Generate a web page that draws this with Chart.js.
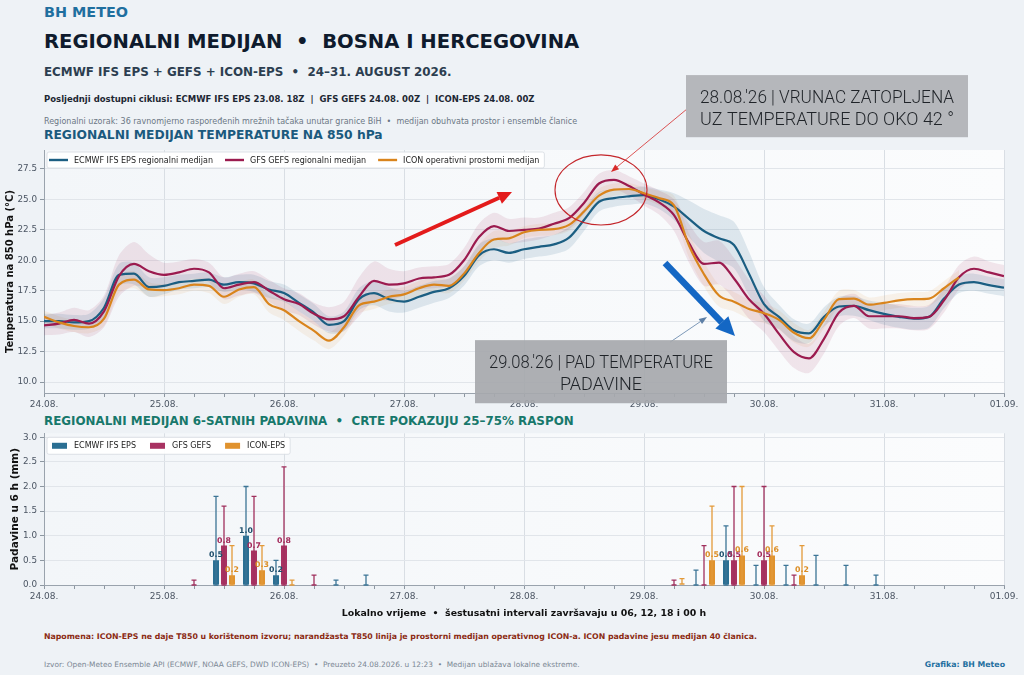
<!DOCTYPE html>
<html lang="bs">
<head>
<meta charset="utf-8">
<title>Regionalni medijan - BiH</title>
<script src="https://cdn.jsdelivr.net/npm/chart.js@4.4.1/dist/chart.umd.min.js"></script>
<style>
  body { margin:0; width:1024px; height:675px; background:#eef2f6; position:relative; overflow:hidden;
         font-family:"DejaVu Sans",sans-serif; }
  .t { position:absolute; left:44px; margin:0; white-space:nowrap; line-height:1; }
  #brend { top:5px; font-size:14.4px; font-weight:bold; color:#1f6f9f; }
  #naslov { top:32px; font-size:19.6px; font-weight:bold; color:#0f1b2d; }
  #podnaslov { top:67px; font-size:11.9px; font-weight:bold; color:#2c3e50; }
  #ciklusi { top:95px; font-size:8.5px; font-weight:bold; color:#1d2733; }
  #uzorak { top:118px; font-size:8px; color:#6b7785; }
  #sekcija1 { top:129px; font-size:12.3px; font-weight:bold; color:#1b5a7e; }
  #sekcija2 { top:416px; font-size:11.9px; font-weight:bold; color:#17786b; }
  #napomena { top:633px; font-size:7.8px; font-weight:bold; color:#8b2a12; }
  #izvor { top:661px; font-size:7.4px; color:#7b8794; }
  #grafika { top:661px; left:auto; right:19px; font-size:7.8px; font-weight:bold; color:#1f6f9f; }
  #gornjiBox { position:absolute; left:0; top:60px; width:1024px; height:355px; }
  #donjiBox { position:absolute; left:0; top:425px; width:1024px; height:200px; }
</style>
</head>
<body>
<div class="t" id="brend">BH METEO</div>
<div class="t" id="naslov">REGIONALNI MEDIJAN &nbsp;•&nbsp; BOSNA I HERCEGOVINA</div>
<div class="t" id="podnaslov">ECMWF IFS EPS + GEFS + ICON-EPS &nbsp;•&nbsp; 24–31. AUGUST 2026.</div>
<div class="t" id="ciklusi">Posljednji dostupni ciklusi: ECMWF IFS EPS 23.08. 18Z &nbsp;| &nbsp;GFS GEFS 24.08. 00Z &nbsp;| &nbsp;ICON-EPS 24.08. 00Z</div>
<div class="t" id="uzorak">Regionalni uzorak: 36 ravnomjerno raspoređenih mrežnih tačaka unutar granice BiH &nbsp;• &nbsp;medijan obuhvata prostor i ensemble članice</div>
<div class="t" id="sekcija1">REGIONALNI MEDIJAN TEMPERATURE NA 850 hPa</div>
<div class="t" id="sekcija2">REGIONALNI MEDIJAN 6-SATNIH PADAVINA &nbsp;•&nbsp; CRTE POKAZUJU 25–75% RASPON</div>
<div class="t" id="napomena">Napomena: ICON-EPS ne daje T850 u korištenom izvoru; narandžasta T850 linija je prostorni medijan operativnog ICON-a. ICON padavine jesu medijan 40 članica.</div>
<div class="t" id="izvor">Izvor: Open-Meteo Ensemble API (ECMWF, NOAA GEFS, DWD ICON-EPS) &nbsp;• &nbsp;Preuzeto 24.08.2026. u 12:23 &nbsp;• &nbsp;Medijan ublažava lokalne ekstreme.</div>
<div class="t" id="grafika">Grafika: BH Meteo</div>

<div id="gornjiBox"><canvas id="gornji" width="1024" height="355"></canvas></div>
<div id="donjiBox"><canvas id="donji" width="1024" height="200"></canvas></div>

<script>
// sati od 24.08. 00h, korak 3 h
const sati = [0,3,6,9,12,15,18,21,24,27,30,33,36,39,42,45,48,51,54,57,60,63,66,69,72,75,78,81,84,87,90,93,96,
  99,102,105,108,111,114,117,120,123,126,129,132,135,138,141,144,147,150,153,156,159,162,165,168,171,174,177,180,183,186,189,192]
const dani = ['24.08.','25.08.','26.08.','27.08.','28.08.','29.08.','30.08.','31.08.','01.09.']
const tempTicks = [10, 12.5, 15, 17.5, 20, 22.5, 25, 27.5]
const padTicks = [0, 0.5, 1, 1.5, 2, 2.5, 3]

// T850 regionalni medijan (°C)
const ecmwfT = [15.0,15.0,14.9,15.0,16.1,18.8,18.9,17.8,17.9,18.2, 18.3,18.4,18.0,18.2,18.1,17.6,17.3,16.5,15.7,14.7,
  15.0,16.8,17.3,16.8,16.6,17.0,17.4,17.7,18.7,20.4, 20.9,20.6,20.9,21.1,21.3,21.85,23.3,24.8,25.1,25.25,
  25.35,25.0,24.4,23.4,22.4,21.8,21.25,18.9,16.4,15.35, 14.25,14.0,15.35,16.2,16.25,15.9,15.6,15.35,15.2,15.35,
  16.85,18.0,18.2,17.95,17.75]
const gfsT = [14.65,14.8,15.1,14.8,15.8,18.7,19.7,19.1,18.8,19.0, 19.3,19.0,17.7,18.0,18.2,17.5,16.8,16.4,15.6,15.15,
  15.4,17.0,18.3,18.0,18.1,18.5,18.6,18.8,20.0,21.9, 22.8,22.4,22.5,22.6,23.0,23.45,24.7,26.3,26.6,26.1,
  25.4,24.75,23.7,21.4,19.7,19.8,18.5,16.8,15.6,13.95, 12.45,11.95,13.55,15.7,16.25,15.4,15.4,15.4,15.25,15.35,
  16.7,18.6,19.3,19.0,18.7]
const iconT = [15.35,14.9,14.6,14.5,15.2,18.0,18.4,17.6,17.55,17.7, 18.0,17.9,17.0,17.6,17.8,16.4,15.9,15.0,14.2,13.4,
  14.5,16.3,16.6,17.0,17.2,17.7,18.0,17.9,18.9,20.6, 21.7,21.8,22.3,22.5,22.55,22.9,24.0,25.3,25.8,25.85,
  25.5,25.1,24.5,21.2,18.85,17.1,16.6,16.0,15.65,15.1, 14.05,13.6,15.1,16.8,16.85,16.35,16.5,16.7,16.8,16.85,
  17.7,18.6,null,null,null]

// polovina 25–75% raspona (°C)
const ecmwfRaspon = [0.6,0.6,0.6,0.6,0.8,0.9,0.9,0.8,0.7,0.6, 0.6,0.6,0.6,0.6,0.7,0.7,0.7,0.7,0.7,0.7,
  0.8,0.9,1.0,1.0,0.9,0.9,0.9,0.8,0.8,0.9, 0.9,0.8,0.8,0.8,0.8,0.9,0.9,0.8,0.7,0.7,
  0.7,0.8,1.1,1.5,1.8,1.9,1.9,1.8,1.4,1.0, 0.9,0.8,0.8,0.8,0.8,0.8,0.9,0.9,0.9,0.9, 0.8,0.7,0.7,0.7,0.7]
const gfsRaspon = [0.8,0.9,1.0,1.1,1.3,1.7,1.8,1.4,1.0,0.9, 0.8,0.8,0.9,0.9,0.9,0.9,0.9,0.9,0.9,1.0,
  1.2,1.6,1.6,1.3,1.0,0.9,0.9,0.9,1.0,1.1, 1.1,1.0,1.0,0.9,0.9,0.9,0.9,0.8,0.8,0.8,
  0.9,1.0,1.3,1.6,1.8,1.8,1.7,1.6,1.5,1.4, 1.3,1.2,1.2,1.1,1.0,1.0,1.0,1.0,1.0,1.0, 1.0,1.0,1.0,0.9,0.9]
const iconRaspon = [0.5,0.5,0.5,0.5,0.6,0.7,0.7,0.6,0.5,0.5, 0.5,0.6,0.6,0.6,0.6,0.7,0.8,0.8,0.8,0.7,
  0.7,0.7,0.6,0.6,0.6,0.6,0.6,0.6,0.6,0.7, 0.7,0.6,0.5,0.5,0.5,0.5,0.6,0.6,0.5,0.5,
  0.5,0.6,0.8,1.0,1.0,0.9,0.8,0.8,0.8,0.8, 0.8,0.7,0.7,0.7,0.7,0.6,0.6,0.6,0.6,0.6, 0.6,0.6,null,null,null]

// 6-satne padavine: kraj intervala u satima od 24.08. 00h
const padSati = [6,12,18,24,30,36,42,48,54,60,66,72,78,84,90,96,102,108,114,120,126,132,138,144,150,156,162,168,174,180,186,192]
const ecmwfPad   = [0,0,0,0,0,0.5,1.0,0.2,0,0, 0,0,0,0,0,0,0,0,0,0, 0,0,0.5,0,0,0,0,0,0,0, 0,0]
const ecmwfPad25 = [0,0,0,0,0,0,0,0,0,0, 0,0,0,0,0,0,0,0,0,0, 0,0,0,0,0,0,0,0,0,0, 0,0]
const ecmwfPad75 = [0,0,0,0,0,1.8,2.0,0.5,0,0.1, 0.2,0,0,0,0,0,0,0,0,0, 0,0.3,1.2,0.4,0.4,0.6,0.4,0.2,0,0, 0,0]
const gfsPad     = [0,0,0,0,0,0.8,0.7,0.8,0,0, 0,0,0,0,0,0,0,0,0,0, 0,0,0.5,0.5,0,0,0,0,0,0, 0,0]
const gfsPad25   = [0,0,0,0,0,0,0,0,0,0, 0,0,0,0,0,0,0,0,0,0, 0,0,0,0,0,0,0,0,0,0, 0,0]
const gfsPad75   = [0,0,0,0,0.1,1.6,1.8,2.4,0.2,0, 0,0,0,0,0,0,0,0,0,0, 0.1,0.8,2.0,2.0,0.2,0,0,0,0,0, 0,0]
const iconPad    = [0,0,0,0,0,0.2,0.3,0,0,0, 0,0,0,0,0,0,0,0,0,0, 0,0.5,0.6,0.6,0.2,0,0,0,0,0, 0,0]
const iconPad25  = [0,0,0,0,0,0,0,0,0,0, 0,0,0,0,0,0,0,0,0,0, 0.02,0,0,0,0,0,0,0,0,0, 0,0]
const iconPad75  = [0,0,0,0,0,0.8,0.8,0.1,0,0, 0,0,0,0,0,0,0,0,0,0, 0.13,1.6,2.0,1.2,0.8,0,0,0,0,0, 0,0]

const FONT = '"DejaVu Sans", sans-serif'
Chart.defaults.font.family = FONT
Chart.defaults.color = '#4b5563'

const osSati = [0].concat(padSati)

//POZADINA PODRUČJA GRAFIKA
const pozadina = {
    id: 'pozadina',
    beforeDraw(chart) {
        const { ctx, chartArea: a } = chart
        const g = ctx.createLinearGradient(a.left, 0, a.right, 0)
        g.addColorStop(0, '#f3f6f9')
        g.addColorStop(1, '#fbfcfd')
        ctx.save()
        ctx.fillStyle = g
        ctx.fillRect(a.left, a.top, a.right - a.left, a.bottom - a.top)
        ctx.restore()
    }
}

//LEGENDA UNUTAR GRAFIKA
function legenda(stavke, tip) {
    const linijska = tip === 'linija'
    const znak = linijska ? 19 : 15
    const doTeksta = linijska ? 6 : 7
    const razmak = linijska ? 12 : 14
    return {
        id: 'legenda',
        afterDraw(chart) {
            const { ctx, chartArea: a } = chart
            ctx.save()
            ctx.font = '8px ' + FONT
            const visina = linijska ? 16 : 17
            const top = a.top + (linijska ? 2 : 4)
            let x = a.left + (linijska ? 5 : 8)
            const polozaji = stavke.map(s => {
                const p = x
                x += znak + doTeksta + ctx.measureText(s.tekst).width + razmak
                return p
            })
            ctx.fillStyle = 'rgba(255,255,255,0.92)'
            ctx.strokeStyle = '#d6dbe1'
            ctx.lineWidth = 0.8
            ctx.beginPath()
            ctx.roundRect(a.left + 3, top, x - razmak + 5 - (a.left + 3), visina, 2)
            ctx.fill()
            ctx.stroke()
            const sredina = top + visina / 2
            stavke.forEach((s, i) => {
                const p = polozaji[i]
                if (linijska) {
                    ctx.strokeStyle = s.boja
                    ctx.lineWidth = 2.4
                    ctx.beginPath(); ctx.moveTo(p, sredina); ctx.lineTo(p + znak, sredina); ctx.stroke()
                } else {
                    ctx.fillStyle = s.boja
                    ctx.fillRect(p, sredina - 3, znak, 6)
                }
                ctx.fillStyle = '#222'
                ctx.textBaseline = 'middle'
                ctx.fillText(s.tekst, p + znak + doTeksta, sredina + 0.5)
            })
            ctx.restore()
        }
    }
}

function strelica(ctx, x1, y1, x2, y2, debljina, boja, duzina, sirina) {
    const ug = Math.atan2(y2 - y1, x2 - x1)
    const bx = x2 - duzina * Math.cos(ug), by = y2 - duzina * Math.sin(ug)
    ctx.strokeStyle = boja
    ctx.fillStyle = boja
    ctx.lineWidth = debljina
    ctx.beginPath(); ctx.moveTo(x1, y1); ctx.lineTo(bx, by); ctx.stroke()
    ctx.beginPath()
    ctx.moveTo(x2, y2)
    ctx.lineTo(bx + sirina / 2 * Math.sin(ug), by - sirina / 2 * Math.cos(ug))
    ctx.lineTo(bx - sirina / 2 * Math.sin(ug), by + sirina / 2 * Math.cos(ug))
    ctx.closePath(); ctx.fill()
}

//NAPOMENE NA GRAFIKU TEMPERATURE (u koordinatama podataka)
const napomene = {
    id: 'napomene',
    afterDraw(chart) {
        const { ctx, scales: { x, y } } = chart
        const px = h => x.getPixelForValue(h)
        const py = t => y.getPixelForValue(t)
        ctx.save()

        // krug oko vrhunca
        ctx.strokeStyle = '#c4262b'
        ctx.lineWidth = 1.1
        ctx.beginPath()
        ctx.ellipse(px(111.4), py(25.77), px(9.2) - px(0), py(0) - py(2.88), 0, 0, Math.PI * 2)
        ctx.stroke()

        // debele strelice
        strelica(ctx, px(70.2), py(21.25), px(93.6), py(25.6), 4, '#e31b1b', 14, 13)
        strelica(ctx, px(124.2), py(19.77), px(138.2), py(13.77), 6.5, '#1467c4', 19, 18)

        // tanke linije prema kutijama
        strelica(ctx, px(128.4), py(32.35), px(113.4), py(27.25), 0.8, '#d62a2a', 8, 6)
        strelica(ctx, px(125.2), py(13.27), px(132.6), py(15.33), 0.8, '#5d7fa6', 8, 6)

        // kutije s tekstom
        const kutija = (h1, t1, h2, t2, boja, redovi) => {
            const l = px(h1), r = px(h2), g = py(t1), d = py(t2)
            ctx.fillStyle = boja
            ctx.fillRect(l, g, r - l, d - g)
            ctx.fillStyle = '#1f2328'
            ctx.font = '300 18px Roboto, ' + FONT
            ctx.textAlign = 'center'
            ctx.textBaseline = 'alphabetic'
            redovi.forEach((red, i) => {
                ctx.fillText(red, (l + r) / 2, g + 28 + i * 22, r - l - 28)
            })
        }
        kutija(128.4, 35.2, 184.8, 30.1, '#b5b7bb', ["28.08.'26 | VRUNAC ZATOPLJENA", 'UZ TEMPERATURE DO OKO 42 °'])
        kutija(86.2, 13.44, 136.6, 8.26, 'rgba(166,168,172,0.92)', ["29.08.'26 | PAD TEMPERATURE", 'PADAVINE'])
        ctx.restore()
    }
}

//STUPCI GREŠKE I OZNAKE VRIJEDNOSTI
const greske = {
    id: 'greske',
    afterDatasetsDraw(chart) {
        const { ctx, scales: { y } } = chart
        ctx.save()
        chart.data.datasets.forEach((ds, di) => {
            const meta = chart.getDatasetMeta(di)
            meta.data.forEach((bar, j) => {
                const hi = ds.p75[j]
                if (!hi) return
                const y1 = y.getPixelForValue(ds.p25[j]), y2 = y.getPixelForValue(hi)
                ctx.strokeStyle = ds.bojaLinije
                ctx.lineWidth = 1.3
                ctx.beginPath()
                ctx.moveTo(bar.x, y1); ctx.lineTo(bar.x, y2)
                ctx.moveTo(bar.x - 2.5, y2); ctx.lineTo(bar.x + 2.5, y2)
                ctx.moveTo(bar.x - 2.5, y1); ctx.lineTo(bar.x + 2.5, y1)
                ctx.stroke()
            })
        })
        ctx.font = 'bold 7.8px ' + FONT
        ctx.textAlign = 'center'
        ctx.textBaseline = 'alphabetic'
        chart.data.datasets.forEach((ds, di) => {
            const meta = chart.getDatasetMeta(di)
            meta.data.forEach((bar, j) => {
                const v = ds.data[j].y
                if (!v) return
                ctx.fillStyle = ds.bojaOznake
                ctx.fillText(v.toFixed(1), bar.x, y.getPixelForValue(v) - 3)
            })
        })
        ctx.restore()
    }
}

const boje = {
    ecmwf: '#1b5e82', gfs: '#9b1b4f', icon: '#d9841c'
}

function tacke(niz) {
    return sati.map((h, i) => ({ x: h, y: niz[i] }))
}
function traka(med, ras, znak) {
    return sati.map((h, i) => ({ x: h, y: med[i] == null ? null : med[i] + znak * ras[i] }))
}

function linija(label, niz, boja, red) {
    return { label, data: tacke(niz), borderColor: boja, borderWidth: 2.2, pointRadius: 0,
             cubicInterpolationMode: 'monotone', fill: false, order: red, spanGaps: false }
}
function granica(niz, ras, znak, boja) {
    return { data: traka(niz, ras, znak), borderWidth: 0, pointRadius: 0, tension: 0.3,
             backgroundColor: boja, fill: znak > 0 ? '+1' : false, order: 10 }
}

const osX = (visina) => ({
    type: 'linear', min: 0, max: 192, offset: false,
    afterBuildTicks: s => { s.ticks = osSati.map(v => ({ value: v })) },
    ticks: { autoSkip: false, maxRotation: 0, padding: 2, font: { size: 9 }, color: '#4b5563',
             callback: v => v % 24 === 0 ? dani[v / 24] : '' },
    grid: { offset: false, color: c => (c.tick && c.tick.value % 24 === 0) ? '#d9dee4' : 'rgba(0,0,0,0)',
            tickColor: '#8d97a1', tickLength: 4, lineWidth: 1 },
    border: { color: '#9aa3ad', width: 1 },
    afterFit: s => { s.height = visina }
})

new Chart(document.querySelector('#gornji'), {
    type: 'line',
    data: {
        datasets: [
            linija('ECMWF IFS EPS regionalni medijan', ecmwfT, boje.ecmwf, 3),
            linija('GFS GEFS regionalni medijan', gfsT, boje.gfs, 2),
            linija('ICON operativni prostorni medijan', iconT, boje.icon, 1),
            granica(ecmwfT, ecmwfRaspon, 1, 'rgba(27,94,130,0.12)'),
            granica(ecmwfT, ecmwfRaspon, -1, 'rgba(27,94,130,0.12)'),
            granica(gfsT, gfsRaspon, 1, 'rgba(155,27,79,0.10)'),
            granica(gfsT, gfsRaspon, -1, 'rgba(155,27,79,0.10)'),
            granica(iconT, iconRaspon, 1, 'rgba(217,132,28,0.09)'),
            granica(iconT, iconRaspon, -1, 'rgba(217,132,28,0.09)')
        ]
    },
    options: {
        responsive: false, animation: false, events: [], devicePixelRatio: 1,
        layout: { padding: { top: 90, right: 20, left: 0, bottom: 0 } },
        plugins: { legend: { display: false }, tooltip: { enabled: false }, filler: { drawTime: 'beforeDatasetsDraw' } },
        scales: {
            x: osX(22),
            y: {
                min: 9.1, max: 29.05,
                afterBuildTicks: s => { s.ticks = tempTicks.map(v => ({ value: v })) },
                ticks: { font: { size: 8.8 }, color: '#4b5563', padding: 3, callback: v => v.toFixed(1) },
                grid: { color: '#e1e5ea', tickColor: '#8d97a1', tickLength: 4 },
                border: { color: '#9aa3ad' },
                title: { display: true, text: 'Temperatura na 850 hPa (°C)', color: '#111',
                         font: { size: 10, weight: 'bold' }, padding: { top: 4, bottom: 0 } },
                afterFit: s => { s.width = 44 }
            }
        }
    },
    plugins: [pozadina, napomene, legenda([
        { tekst: 'ECMWF IFS EPS regionalni medijan', boja: boje.ecmwf },
        { tekst: 'GFS GEFS regionalni medijan', boja: boje.gfs },
        { tekst: 'ICON operativni prostorni medijan', boja: boje.icon }
    ], 'linija')]
})

function stupci(label, med, p25, p75, boja, bojaLinije, bojaOznake) {
    return { label, data: padSati.map((h, i) => ({ x: h, y: med[i] })), p25, p75,
             backgroundColor: boja, bojaLinije, bojaOznake,
             categoryPercentage: 0.8, barPercentage: 0.75 }
}

new Chart(document.querySelector('#donji'), {
    type: 'bar',
    data: {
        datasets: [
            stupci('ECMWF IFS EPS', ecmwfPad, ecmwfPad25, ecmwfPad75, '#2a6f93', '#3c7596', '#1d4e6b'),
            stupci('GFS GEFS', gfsPad, gfsPad25, gfsPad75, '#a83262', '#a0305d', '#a3295a'),
            stupci('ICON-EPS', iconPad, iconPad25, iconPad75, '#e0922e', '#e39a3a', '#dc8e26')
        ]
    },
    options: {
        responsive: false, animation: false, events: [], devicePixelRatio: 1,
        layout: { padding: { top: 8, right: 20, left: 0, bottom: 6 } },
        plugins: { legend: { display: false }, tooltip: { enabled: false } },
        scales: {
            x: Object.assign(osX(34), {
                title: { display: true, text: 'Lokalno vrijeme  •  šestusatni intervali završavaju u 06, 12, 18 i 00 h',
                         color: '#111', font: { size: 9.4, weight: 'bold' }, padding: { top: 4, bottom: 0 } }
            }),
            y: {
                min: 0, max: 3.08,
                afterBuildTicks: s => { s.ticks = padTicks.map(v => ({ value: v })) },
                ticks: { font: { size: 8.8 }, color: '#4b5563', padding: 3, callback: v => v.toFixed(1) },
                grid: { color: '#e1e5ea', tickColor: '#8d97a1', tickLength: 4 },
                border: { color: '#9aa3ad' },
                title: { display: true, text: 'Padavine u 6 h (mm)', color: '#111',
                         font: { size: 10.5, weight: 'bold' }, padding: { top: 9, bottom: 0 } },
                afterFit: s => { s.width = 44 }
            }
        }
    },
    plugins: [pozadina, greske, legenda([
        { tekst: 'ECMWF IFS EPS', boja: '#2a6f93' },
        { tekst: 'GFS GEFS', boja: '#a83262' },
        { tekst: 'ICON-EPS', boja: '#e0922e' }
    ], 'stupac')]
})
</script>
</body>
</html>
